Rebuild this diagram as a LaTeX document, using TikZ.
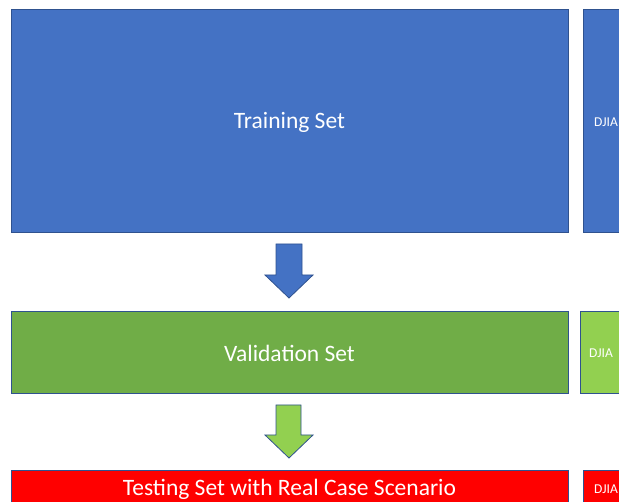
\documentclass[tikz,border=0pt]{standalone}
\usepackage{fontspec}
\setmainfont{Carlito}
\definecolor{tblue}{HTML}{4472C4}
\definecolor{tgreen}{HTML}{70AD47}
\definecolor{lgreen}{HTML}{92D050}
\definecolor{tred}{HTML}{FF0000}
\definecolor{edge}{HTML}{2F528F}
\begin{document}
\begin{tikzpicture}[x=1pt,y=-1pt,
  setbox/.style={draw=edge,line width=0.8pt,inner sep=0pt},
  bigtext/.style={text=white,font=\fontsize{23.5}{28}\selectfont},
  smalltext/.style={text=white,font=\fontsize{13.5}{16}\selectfont,anchor=west,inner sep=0pt},
  downarrow/.style={draw=edge,line width=0.8pt}]
\useasboundingbox (0,0) rectangle (619,502);
\begin{scope}
\clip (0,0) rectangle (619,502);
% main boxes
\path[setbox,fill=tblue] (11,9) rectangle (568,232);
\node[bigtext] (train) at (289.5,122) {Training Set};
\path[setbox,fill=tgreen] (11,311) rectangle (568,393);
\node[bigtext] (valid) at (289.5,353) {Validation Set};
\path[setbox,fill=tred] (11,470) rectangle (568,520);
\node[bigtext] (test) at (289.5,489) {Testing Set with Real Case Scenario};
% right boxes
\path[setbox,fill=tblue] (583,9) rectangle (640,232);
\node[smalltext] (d1) at (594,122) {DJIA};
\path[setbox,fill=lgreen] (580,311) rectangle (640,393);
\node[smalltext] (d2) at (589,353) {DJIA};
\path[setbox,fill=tred] (583,470) rectangle (640,520);
\node[smalltext] (d3) at (594,489) {DJIA};
% arrows
\path[downarrow,fill=tblue] (276,244) -- (302,244) -- (302,275) -- (313,275) -- (289,298) -- (265,275) -- (276,275) -- cycle;
\path[downarrow,fill=lgreen] (276,405) -- (301,405) -- (301,435) -- (313,435) -- (289,458) -- (265,435) -- (276,435) -- cycle;
\end{scope}
\end{tikzpicture}
\end{document}
